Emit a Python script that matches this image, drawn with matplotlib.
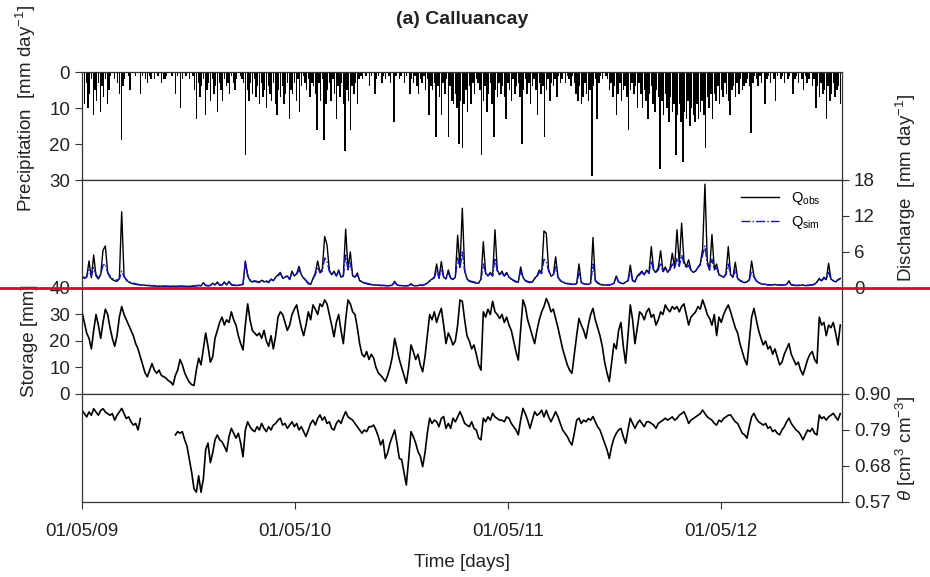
import numpy as np
import pandas as pd
import matplotlib
matplotlib.use("Agg")
import matplotlib.pyplot as plt
import matplotlib.dates as mdates
from matplotlib.ticker import FormatStrFormatter
from matplotlib.lines import Line2D

plt.rcParams['font.family'] = ['Liberation Sans', 'DejaVu Sans']
plt.rcParams['mathtext.fontset'] = 'custom'
plt.rcParams['mathtext.rm'] = 'Liberation Sans'
plt.rcParams['mathtext.it'] = 'Liberation Sans:italic'
plt.rcParams['mathtext.bf'] = 'Liberation Sans:bold'

START = '2009-05-01'
END = '2012-11-24'

# precipitation [mm/day], one value every 3 days
precip = (
    [4, 9, 3, 10, 6, 2, 12, 5, 8, 3, 11, 4, 7, 2, 9, 5, 1, 0, 2, 0] +
    [3, 6, 19, 4, 2, 0, 1, 5, 0, 0, 1, 0, 0, 6, 1, 0, 2, 3, 1, 2] +
    [0, 2, 0, 1, 0, 3, 2, 2, 1, 0, 0, 1, 0, 6, 1, 0, 10, 2, 0, 1] +
    [0, 2, 0, 1, 5, 13, 3, 7, 4, 2, 12, 5, 3, 8, 2, 6, 4, 11, 3, 5] +
    [8, 2, 4, 3, 6, 1, 3, 5, 2, 0, 1, 2, 3, 23, 5, 8, 3, 6, 2, 7] +
    [4, 9, 3, 7, 5, 10, 4, 6, 8, 3, 9, 12, 5, 7, 4, 9, 6, 3, 13, 5] +
    [6, 3, 8, 2, 11, 4, 1, 3, 5, 2, 7, 3, 4, 6, 16, 3, 8, 2, 19, 9] +
    [5, 3, 8, 2, 6, 13, 4, 7, 3, 9, 22, 5, 8, 16, 4, 6, 3, 9, 2, 1] +
    [2, 0, 1, 0, 4, 1, 0, 6, 2, 1, 0, 3, 1, 2, 0, 1, 3, 0, 14, 1] +
    [0, 2, 1, 0, 3, 1, 0, 6, 2, 3, 1, 4, 6, 2, 3, 1, 5, 2, 12, 4] +
    [5, 3, 18, 4, 7, 12, 3, 6, 2, 18, 4, 8, 9, 6, 10, 20, 8, 21, 9, 5] +
    [11, 4, 9, 3, 6, 2, 3, 5, 23, 8, 4, 11, 6, 3, 9, 18, 5, 7, 3, 6] +
    [4, 7, 13, 3, 5, 8, 2, 6, 4, 3, 7, 20, 5, 2, 6, 3, 9, 4, 2, 5] +
    [12, 3, 6, 4, 18, 5, 2, 8, 3, 4, 2, 7, 1, 3, 2, 0, 3, 1, 2, 4] +
    [1, 3, 6, 8, 4, 9, 7, 3, 6, 8, 5, 29, 4, 2, 13, 3, 1, 2, 0, 1] +
    [2, 5, 3, 7, 4, 12, 6, 3, 8, 5, 4, 7, 16, 5, 3, 6, 4, 10, 3, 6] +
    [10, 5, 8, 13, 6, 4, 9, 11, 5, 7, 27, 8, 12, 6, 10, 14, 7, 11, 9, 23] +
    [12, 9, 14, 25, 11, 13, 8, 15, 10, 12, 14, 9, 13, 11, 8, 12, 21, 7, 10, 6] +
    [13, 6, 8, 4, 9, 5, 7, 3, 6, 8, 12, 5, 4, 7, 3, 6, 2, 5, 4, 3] +
    [2, 4, 17, 3, 1, 2, 4, 1, 3, 0, 9, 2, 1, 3, 0, 2, 8, 1, 0, 2] +
    [1, 3, 0, 2, 1, 0, 6, 2, 1, 3, 0, 2, 5, 1, 3, 2, 0, 4, 2, 10] +
    [4, 7, 3, 6, 5, 13, 4, 8, 6, 3, 7, 5, 4, 9]
)

# observed discharge [mm/day], every 4 days
q_obs = (
    [2.0, 1.6, 1.8, 4.5, 1.7, 5.5, 2.0, 1.5, 2.2, 6.3, 7.0, 2.5, 1.8, 1.4, 1.2] +
    [1.1, 1.6, 12.7, 2.0, 1.3, 1.0, 0.8, 0.7, 0.6, 0.55, 0.5, 0.5, 0.45, 0.4, 0.4] +
    [0.35, 0.35, 0.3, 0.3, 0.3, 0.3, 0.3, 0.25, 0.25, 0.3, 0.3, 0.25, 0.3, 0.3, 0.25] +
    [0.25, 0.25, 0.3, 0.3, 0.35, 0.4, 0.35, 0.9, 0.4, 0.35, 0.4, 0.8, 0.5, 1.0, 0.45] +
    [0.5, 1.0, 0.5, 1.1, 0.5, 0.45, 0.4, 0.45, 0.5, 0.6, 4.5, 2.0, 1.2, 1.0, 1.1] +
    [1.0, 0.9, 1.3, 1.0, 1.1, 0.9, 1.5, 1.2, 1.8, 2.2, 2.6, 1.6, 1.8, 2.0, 1.4] +
    [2.8, 2.0, 2.4, 3.6, 2.2, 1.6, 1.2, 0.7, 0.6, 1.6, 2.5, 4.5, 2.6, 3.2, 8.6] +
    [7.2, 3.0, 2.2, 2.8, 2.0, 3.0, 1.8, 2.0, 9.8, 3.2, 6.0, 2.0, 1.8, 2.5, 1.2] +
    [1.0, 0.8, 0.7, 0.6, 0.55, 0.5, 0.5, 0.45, 0.4, 0.4, 0.4, 0.35, 0.4, 0.5, 1.1] +
    [0.5, 0.4, 0.4, 0.35, 0.35, 0.4, 0.7, 0.4, 0.35, 0.4, 0.5, 0.4, 0.6, 0.8, 1.2] +
    [1.5, 1.8, 4.0, 1.6, 4.4, 1.8, 1.5, 3.0, 1.6, 1.4, 1.8, 8.8, 3.5, 13.3, 3.0] +
    [1.5, 1.1, 1.0, 0.9, 0.8, 0.8, 1.5, 7.7, 2.5, 2.0, 2.6, 2.0, 9.7, 3.0, 2.2] +
    [2.8, 2.0, 2.6, 1.8, 1.5, 1.2, 1.0, 1.0, 3.5, 1.8, 1.2, 1.0, 0.9, 1.0, 1.6] +
    [2.0, 3.0, 2.5, 9.5, 9.1, 3.0, 2.0, 2.2, 5.2, 1.8, 1.2, 1.0, 0.8, 0.7, 0.7] +
    [0.6, 0.6, 0.7, 4.0, 0.9, 0.7, 0.6, 0.6, 0.8, 8.4, 1.2, 0.8, 0.6, 0.5, 0.5] +
    [0.5, 0.5, 0.6, 0.8, 2.0, 1.0, 0.8, 0.7, 1.0, 1.2, 3.8, 1.2, 1.0, 2.0, 2.4] +
    [2.8, 2.2, 3.0, 2.5, 6.9, 3.0, 2.6, 3.4, 6.2, 2.8, 3.5, 2.6, 3.2, 5.8, 3.4] +
    [9.7, 4.0, 10.8, 4.5, 3.5, 4.7, 3.0, 2.6, 2.8, 3.5, 4.0, 6.5, 17.3, 4.5, 3.0] +
    [8.9, 3.2, 4.0, 2.2, 2.0, 1.8, 2.4, 6.9, 2.2, 1.8, 4.3, 1.6, 1.2, 1.0, 0.9] +
    [1.0, 1.4, 4.5, 2.0, 1.2, 0.9, 0.7, 0.6, 0.6, 0.5, 0.5, 0.5, 0.6, 0.5, 0.5] +
    [0.45, 0.5, 0.6, 1.2, 0.5, 0.45, 0.4, 0.4, 0.45, 0.5, 0.4, 0.4, 0.45, 0.5, 0.6] +
    [1.0, 1.6, 1.2, 1.8, 1.4, 4.1, 1.5, 1.2, 1.0, 1.4, 1.6]
)

# simulated discharge [mm/day], every 4 days
q_sim = (
    [1.8, 1.7, 1.9, 3.0, 2.0, 3.4, 2.2, 1.8, 2.3, 3.8, 4.0, 2.6, 2.0, 1.6, 1.4] +
    [1.3, 1.5, 2.8, 1.9, 1.4, 1.1, 0.9, 0.8, 0.7, 0.6, 0.55, 0.5, 0.45, 0.45, 0.4] +
    [0.4, 0.35, 0.35, 0.3, 0.3, 0.3, 0.3, 0.3, 0.3, 0.3, 0.3, 0.3, 0.3, 0.3, 0.3] +
    [0.3, 0.3, 0.3, 0.35, 0.4, 0.45, 0.4, 0.8, 0.5, 0.4, 0.45, 0.7, 0.55, 0.9, 0.5] +
    [0.55, 0.9, 0.6, 1.0, 0.6, 0.5, 0.45, 0.5, 0.5, 0.6, 4.3, 2.2, 1.4, 1.1, 1.2] +
    [1.1, 1.0, 1.3, 1.1, 1.2, 1.0, 1.4, 1.3, 1.7, 2.0, 2.4, 1.7, 1.9, 2.0, 1.5] +
    [2.5, 2.0, 2.3, 3.0, 2.2, 1.7, 1.3, 0.8, 0.7, 1.5, 2.2, 3.5, 2.5, 2.8, 5.0] +
    [4.5, 2.8, 2.2, 2.6, 2.0, 2.7, 1.9, 2.0, 5.5, 3.0, 4.2, 2.1, 1.9, 2.2, 1.3] +
    [1.1, 0.9, 0.8, 0.7, 0.6, 0.55, 0.5, 0.5, 0.45, 0.45, 0.4, 0.4, 0.4, 0.5, 0.9] +
    [0.55, 0.45, 0.4, 0.4, 0.4, 0.4, 0.6, 0.45, 0.4, 0.4, 0.5, 0.45, 0.6, 0.8, 1.1] +
    [1.4, 1.7, 3.0, 1.7, 3.2, 1.8, 1.6, 2.5, 1.7, 1.5, 1.8, 5.0, 3.2, 6.0, 2.8] +
    [1.6, 1.2, 1.1, 1.0, 0.9, 0.9, 1.4, 4.0, 2.4, 2.0, 2.4, 2.0, 5.0, 2.8, 2.2] +
    [2.5, 2.0, 2.4, 1.8, 1.5, 1.3, 1.1, 1.0, 2.8, 1.8, 1.3, 1.1, 1.0, 1.0, 1.5] +
    [1.9, 2.6, 2.4, 4.8, 4.5, 2.8, 2.0, 2.1, 3.5, 1.8, 1.3, 1.0, 0.9, 0.8, 0.7] +
    [0.65, 0.6, 0.7, 2.5, 0.9, 0.7, 0.65, 0.6, 0.8, 4.0, 1.3, 0.9, 0.7, 0.6, 0.55] +
    [0.5, 0.5, 0.6, 0.8, 1.8, 1.0, 0.8, 0.7, 1.0, 1.2, 2.8, 1.3, 1.1, 1.8, 2.2] +
    [2.6, 2.2, 2.8, 2.4, 4.5, 2.9, 2.5, 3.0, 4.2, 2.7, 3.2, 2.6, 3.0, 4.0, 3.2] +
    [5.0, 3.6, 5.5, 4.0, 3.3, 3.8, 2.9, 2.6, 2.8, 3.4, 3.8, 5.5, 7.0, 4.0, 3.0] +
    [4.8, 3.0, 3.4, 2.2, 2.0, 1.8, 2.2, 4.0, 2.1, 1.8, 3.0, 1.6, 1.3, 1.1, 1.0] +
    [1.0, 1.3, 2.8, 1.8, 1.2, 0.9, 0.75, 0.65, 0.6, 0.55, 0.5, 0.5, 0.55, 0.5, 0.5] +
    [0.5, 0.5, 0.6, 0.9, 0.55, 0.5, 0.45, 0.45, 0.5, 0.5, 0.45, 0.45, 0.5, 0.55, 0.7] +
    [1.0, 1.4, 1.2, 1.6, 1.4, 2.6, 1.5, 1.2, 1.1, 1.3, 1.5]
)

# modelled storage [mm], every 4 days
storage = (
    [31, 27, 23, 21, 17, 24, 30, 26, 21, 27, 32, 30, 25, 21, 18] +
    [22, 29, 33, 30, 28, 26, 24, 22, 19, 17, 14, 11, 8, 6.5, 9] +
    [11.5, 9, 7.8, 9, 7, 6.5, 6, 5, 4.5, 3.4, 7, 9, 13, 11, 8] +
    [6, 4.5, 3.5, 3.2, 9, 13.5, 11, 17, 23, 18, 12, 14, 21, 24, 27] +
    [29, 26, 28, 27, 31, 28, 26, 22, 19, 16.6, 26, 34, 28, 24, 23] +
    [22, 23, 21, 24, 20, 18, 22, 17, 22, 29, 31, 30, 27, 24, 26] +
    [30, 32, 33.6, 29, 25, 22, 26, 31, 28, 33.6, 32, 30, 34, 33, 35.5] +
    [34, 30, 26, 21.6, 27, 30, 24, 19, 28, 35.5, 34, 31, 30, 25, 19] +
    [15, 14, 16, 13, 15, 13.5, 10, 8, 7, 6, 4.7, 7, 10, 14, 21] +
    [17, 13, 10, 7, 4, 10, 18.5, 16, 13, 15, 11, 8.4, 14, 22, 30] +
    [28, 31, 27, 30, 32.3, 26, 19, 23, 21, 18.5, 20, 26, 35.5, 35, 28] +
    [22, 20, 17, 18.5, 15, 11, 9, 31, 29, 32, 30, 35, 31, 30, 28.5] +
    [30, 27, 29, 26, 24, 20, 16, 12.8, 24, 35.5, 33, 28, 25, 22, 19] +
    [24, 28, 31, 33, 36, 34, 31, 32, 28.5, 25, 21, 17, 14, 11, 9] +
    [7.8, 15, 22, 28.5, 26, 24, 21, 26, 30, 32.3, 28, 25, 22, 18, 12] +
    [8, 4.7, 12, 19, 17, 24, 27, 18, 11.6, 22, 33.6, 28, 19, 25, 31] +
    [30, 28, 31, 32.3, 29, 30, 26, 28, 31, 30, 33.6, 32, 31, 33, 32] +
    [33, 31, 33, 34, 30, 26, 29, 30, 31, 33, 32, 35.5, 33, 30, 28.5] +
    [26, 30, 22, 29, 27, 30, 32, 33.6, 31, 28, 25, 23, 19, 16, 13] +
    [11, 20, 29, 32.3, 28, 24, 21, 18.5, 20, 17, 18, 15, 17, 14, 11] +
    [12, 15, 17, 19, 15, 13, 11, 12, 9, 7.2, 10, 13, 15, 16, 13] +
    [11.6, 29, 26, 27, 22, 26, 25, 27, 23, 18.5, 26]
)

# soil moisture theta [cm3/cm3], every 4 days (gap = missing record)
nan = np.nan
theta = (
    [0.85, 0.84, 0.83, 0.845, 0.835, 0.855, 0.845, 0.835, 0.85, 0.855, 0.845, 0.84, 0.835, 0.84, 0.82] +
    [0.835, 0.845, 0.856, 0.84, 0.825, 0.83, 0.815, 0.805, 0.81, 0.79, 0.825, nan, nan, nan, nan] +
    [nan, nan, nan, nan, nan, nan, nan, nan, nan, nan, 0.775, 0.785, 0.78, 0.785, 0.76] +
    [0.74, 0.70, 0.66, 0.61, 0.60, 0.65, 0.60, 0.64, 0.73, 0.75, 0.69, 0.72, 0.76, 0.775, 0.76] +
    [0.754, 0.74, 0.724, 0.77, 0.795, 0.78, 0.765, 0.78, 0.75, 0.708, 0.79, 0.815, 0.80, 0.79, 0.785] +
    [0.80, 0.79, 0.81, 0.795, 0.785, 0.80, 0.79, 0.805, 0.81, 0.82, 0.826, 0.805, 0.81, 0.795, 0.805] +
    [0.815, 0.80, 0.81, 0.79, 0.80, 0.785, 0.77, 0.79, 0.81, 0.82, 0.805, 0.825, 0.836, 0.82, 0.83] +
    [0.81, 0.815, 0.795, 0.79, 0.81, 0.82, 0.81, 0.83, 0.846, 0.83, 0.825, 0.82, 0.81, 0.80, 0.79] +
    [0.78, 0.79, 0.785, 0.80, 0.80, 0.805, 0.79, 0.77, 0.744, 0.76, 0.703, 0.72, 0.75, 0.77, 0.79] +
    [0.75, 0.703, 0.70, 0.66, 0.622, 0.70, 0.785, 0.77, 0.75, 0.724, 0.71, 0.678, 0.72, 0.78, 0.826] +
    [0.81, 0.82, 0.815, 0.80, 0.825, 0.831, 0.795, 0.81, 0.795, 0.826, 0.815, 0.83, 0.846, 0.83, 0.81] +
    [0.805, 0.80, 0.815, 0.795, 0.79, 0.765, 0.76, 0.826, 0.815, 0.83, 0.82, 0.841, 0.83, 0.825, 0.82] +
    [0.82, 0.815, 0.83, 0.826, 0.81, 0.80, 0.79, 0.775, 0.82, 0.856, 0.84, 0.82, 0.795, 0.82, 0.846] +
    [0.835, 0.84, 0.85, 0.83, 0.85, 0.83, 0.815, 0.83, 0.846, 0.83, 0.81, 0.79, 0.78, 0.77, 0.755] +
    [0.744, 0.78, 0.82, 0.826, 0.81, 0.82, 0.815, 0.825, 0.82, 0.831, 0.815, 0.80, 0.79, 0.77, 0.75] +
    [0.73, 0.703, 0.74, 0.765, 0.78, 0.79, 0.795, 0.77, 0.749, 0.79, 0.826, 0.81, 0.795, 0.81, 0.82] +
    [0.81, 0.80, 0.815, 0.815, 0.81, 0.805, 0.795, 0.81, 0.815, 0.82, 0.826, 0.82, 0.825, 0.83, 0.82] +
    [0.825, 0.835, 0.84, 0.846, 0.83, 0.81, 0.82, 0.825, 0.83, 0.835, 0.84, 0.851, 0.84, 0.83, 0.825] +
    [0.82, 0.81, 0.805, 0.82, 0.815, 0.825, 0.83, 0.835, 0.836, 0.825, 0.815, 0.81, 0.795, 0.78, 0.775] +
    [0.765, 0.80, 0.83, 0.841, 0.825, 0.815, 0.81, 0.805, 0.81, 0.795, 0.80, 0.785, 0.79, 0.78, 0.775] +
    [0.79, 0.80, 0.815, 0.826, 0.81, 0.80, 0.79, 0.785, 0.775, 0.76, 0.775, 0.79, 0.785, 0.795, 0.78] +
    [0.775, 0.836, 0.825, 0.83, 0.82, 0.83, 0.835, 0.841, 0.83, 0.82, 0.84]
)

p_dates = pd.date_range(START, periods=len(precip), freq='3D')
s_dates = pd.date_range(START, periods=len(q_obs), freq='4D')

ink = '#222222'
fs = 13.5

fig = plt.figure(figsize=(9.3, 5.77), dpi=100)
left, width = 0.0882, 0.8172
ax_p = fig.add_axes([left, 0.688, width, 0.1872])
ax_q = fig.add_axes([left, 0.5009, width, 0.1872], sharex=ax_p)
ax_s = fig.add_axes([left, 0.3172, width, 0.1837], sharex=ax_p)
ax_t = fig.add_axes([left, 0.1300, width, 0.1872], sharex=ax_p)

for ax in (ax_p, ax_q, ax_s, ax_t):
    for sp in ax.spines.values():
        sp.set_color('#333333')
        sp.set_linewidth(0.9)
    ax.tick_params(direction='out', length=5, width=0.8, colors='#333333',
                   labelsize=fs, labelcolor=ink)
    ax.tick_params(axis='x', bottom=False, labelbottom=False)

# precipitation, hanging from the top
ax_p.bar(p_dates, precip, width=2.3, align='edge', color='black', linewidth=0)
ax_p.set_ylim(30, 0)
ax_p.set_yticks([0, 10, 20, 30])
ax_p.set_ylabel(r'Precipitation  [mm day$^{-1}$]', fontsize=fs, color=ink)
ax_p.yaxis.set_label_coords(-0.058, 0.66)

# discharge
ax_q.plot(s_dates, q_obs, color='black', lw=1.0, label=r'Q$_{\rm obs}$')
ax_q.plot(s_dates, q_sim, color='#1010d0', lw=1.0, ls='-.', label=r'Q$_{\rm sim}$')
ax_q.set_ylim(0, 18)
ax_q.set_yticks([0, 6, 12, 18])
ax_q.yaxis.tick_right()
ax_q.yaxis.set_label_position('right')
ax_q.set_ylabel(r'Discharge  [mm day$^{-1}$]', fontsize=fs, color=ink)
ax_q.yaxis.set_label_coords(1.068, 0.93)
ax_q.legend(loc='upper right', frameon=False, fontsize=10.5, handlelength=2.6,
            borderaxespad=0.3, bbox_to_anchor=(0.985, 1.0))

# storage
ax_s.plot(s_dates, storage, color='black', lw=1.2)
ax_s.set_ylim(0, 40)
ax_s.set_yticks([0, 10, 20, 30, 40])
ax_s.set_ylabel('Storage [mm]', fontsize=fs, color=ink)
ax_s.yaxis.set_label_coords(-0.058, 0.5)

# soil moisture
ax_t.plot(s_dates, theta, color='black', lw=1.2)
ax_t.set_ylim(0.57, 0.90)
ax_t.set_yticks([0.57, 0.68, 0.79, 0.90])
ax_t.yaxis.set_major_formatter(FormatStrFormatter('%.2f'))
ax_t.yaxis.tick_right()
ax_t.yaxis.set_label_position('right')
ax_t.set_ylabel(r'$\theta$ [cm$^3$ cm$^{-3}$]', fontsize=fs, color=ink)
ax_t.yaxis.set_label_coords(1.068, 0.5)

ax_t.tick_params(axis='x', bottom=True, labelbottom=True, pad=10)
ax_t.xaxis.set_major_locator(mdates.MonthLocator(bymonth=5, bymonthday=1))
ax_t.xaxis.set_major_formatter(mdates.DateFormatter('%d/%m/%y'))
ax_t.set_xlim(pd.Timestamp(START), pd.Timestamp(END))
ax_t.set_xlabel('Time [days]', fontsize=fs, color=ink, labelpad=10)

fig.text(left + width / 2, 1 - 20 / 577, '(a) Calluancay', ha='center', va='center',
         fontsize=14, fontweight='bold', color=ink)

# separator at the discharge / storage boundary
y_cut = ax_q.get_position().y0
fig.add_artist(Line2D([0, 1], [y_cut, y_cut], transform=fig.transFigure,
                      color='#c8102e', lw=2.0))

fig.savefig('out.png', dpi=100)
